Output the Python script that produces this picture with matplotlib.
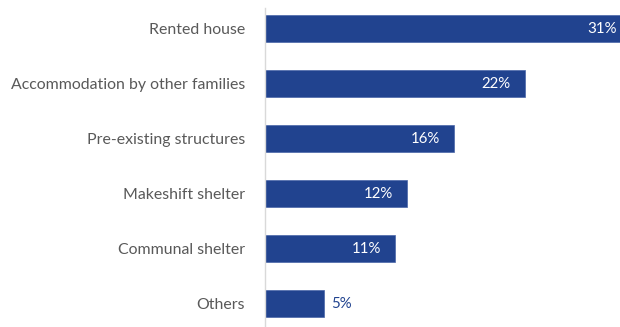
import matplotlib
matplotlib.use("Agg")
import matplotlib.pyplot as plt

categories = ["Rented house", "Accommodation by other families", "Pre-existing structures",
              "Makeshift shelter", "Communal shelter", "Others"]
values = [31, 22, 16, 12, 11, 5]
value_labels = ["31%", "22%", "16%", "12%", "11%", "5%"]

bar_color = "#21438f"
text_color = "#595959"
font = ["Lato", "DejaVu Sans"]

fig = plt.figure(figsize=(6.2, 3.27), dpi=100)
ax = fig.add_axes([265 / 620, 0.0, 1 - 265 / 620, (327 - 8) / 327])

y = list(range(len(categories)))
ax.barh(y, values, height=0.49, color=bar_color, edgecolor="#4a66a8", linewidth=0.5)

ax.set_xlim(0, 30.08)
ax.set_ylim(5.427, -0.373)

ax.set_yticks(y)
ax.set_yticklabels(categories, fontsize=11.4, color=text_color, family=font)
ax.tick_params(axis="y", length=0, pad=14.5)
ax.set_xticks([])

for s in ["top", "right", "bottom"]:
    ax.spines[s].set_visible(False)
ax.spines["left"].set_color("#d9d9d9")
ax.spines["left"].set_linewidth(1.0)

for i, (v, lab) in enumerate(zip(values, value_labels)):
    if v >= 8:
        ax.annotate(lab, xy=(v, i), xytext=(-10, 0), textcoords="offset points",
                    ha="right", va="center", color="white", fontsize=10.8,
                    family=font, annotation_clip=False)
    else:
        ax.annotate(lab, xy=(v, i), xytext=(5, 0), textcoords="offset points",
                    ha="left", va="center", color=bar_color, fontsize=10.8,
                    family=font, annotation_clip=False)

fig.savefig("out.png", dpi=100)
